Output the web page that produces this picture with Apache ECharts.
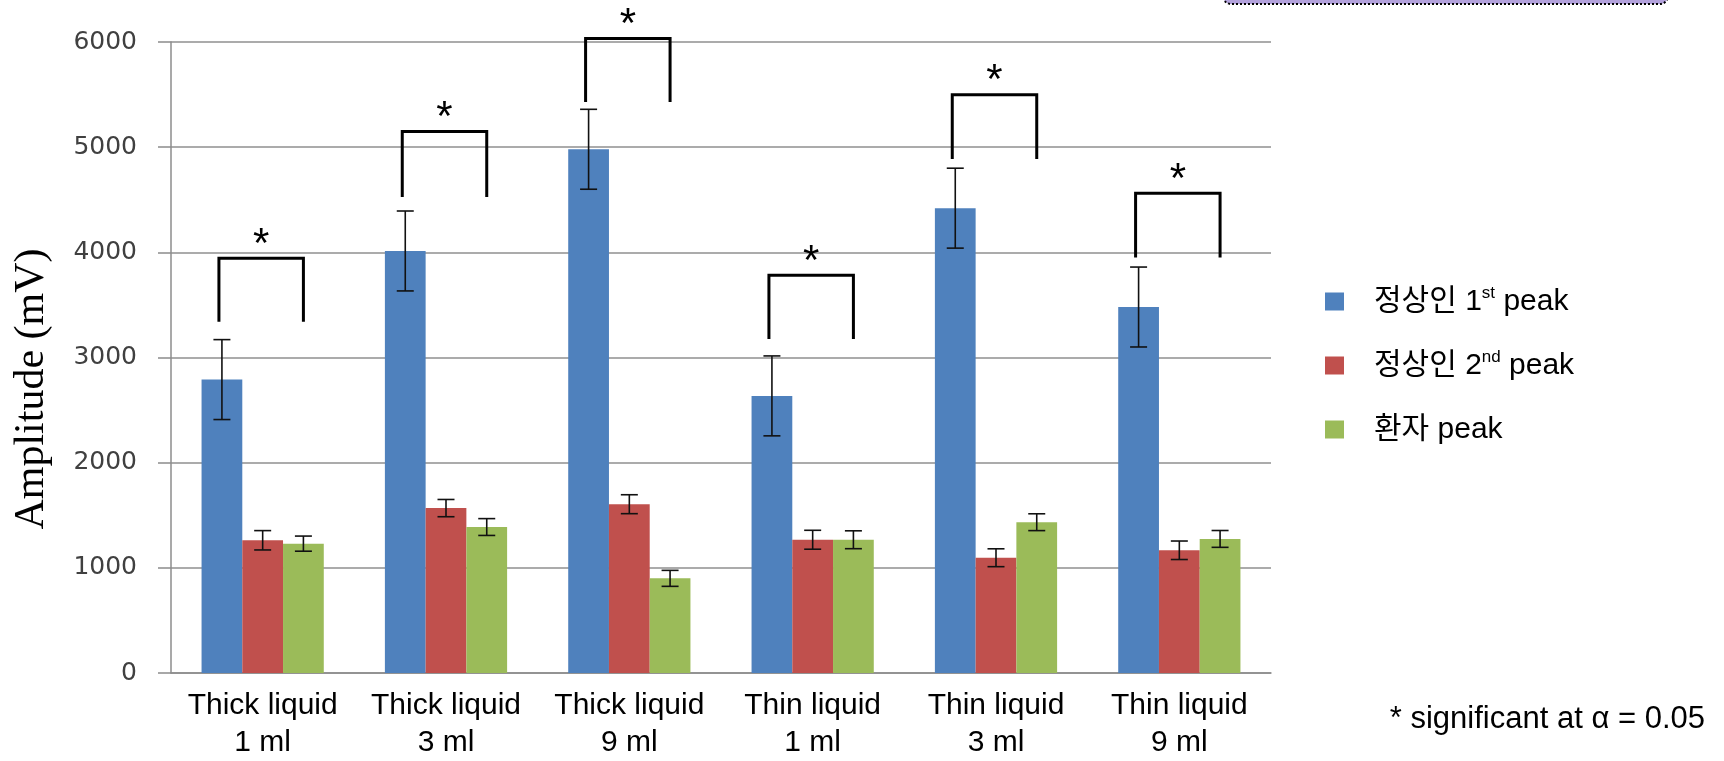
<!DOCTYPE html>
<html>
<head>
<meta charset="utf-8">
<script src="https://cdn.jsdelivr.net/npm/echarts@6/dist/echarts.min.js"></script>
<style>
  html, body { margin: 0; padding: 0; background: #fff; }
  #chart { width: 1724px; height: 761px; }
</style>
</head>
<body>
<div id="chart"></div>
<script>
// Swallowing amplitude by bolus type
const categories = ['Thick liquid\n1 ml', 'Thick liquid\n3 ml', 'Thick liquid\n9 ml',
                    'Thin liquid\n1 ml', 'Thin liquid\n3 ml', 'Thin liquid\n9 ml'];
const seriesNames = ['정상인 1st peak', '정상인 2nd peak', '환자 peak'];
const seriesColors = ['#4f81bd', '#c0504d', '#9bbb59'];

const normal1st    = [2790, 4013, 4980, 2635, 4420, 3480];
const normal1stErr = [380, 380, 380, 380, 380, 380];
const normal2nd    = [1262, 1568, 1605, 1267, 1096, 1167];
const normal2ndErr = [92, 82, 90, 90, 85, 88];
const patient      = [1230, 1388, 900, 1267, 1434, 1275];
const patientErr   = [72, 80, 76, 85, 80, 80];

// significance brackets (1st peak vs patient peak)
const bracketTop = [3943, 5150, 6033, 3781, 5498, 4562];
const bracketLeg = [3340, 4525, 5429, 3177, 4888, 3952];

const yMin = 0, yMax = 6000, yStep = 1000;
const noteText = '* significant at α = 0.05';

const means = [normal1st, normal2nd, patient];
const errs = [normal1stErr, normal2ndErr, patientErr];

const chart = echarts.init(document.getElementById('chart'));

function barWidthOf(api) {
  const band = api.size([1, 0])[0];
  return band * (2 / 3) / 3;
}

const barSeries = seriesNames.map((name, i) => ({
  type: 'bar',
  name: name,
  data: means[i],
  barGap: '0%',
  barCategoryGap: '33.333%',
  itemStyle: { color: seriesColors[i] },
  z: 2
}));

const errorSeries = seriesNames.map((name, i) => ({
  type: 'custom',
  name: name + ' err',
  data: means[i].map((m, k) => [k, m, errs[i][k]]),
  encode: { x: 0, y: 1 },
  clip: false,
  z: 5,
  renderItem: function (params, api) {
    const bw = barWidthOf(api);
    const k = api.value(0), m = api.value(1), e = api.value(2);
    const cx = api.coord([k, m])[0] + (i - 1) * bw;
    const yHi = api.coord([k, m + e])[1];
    const yLo = api.coord([k, m - e])[1];
    const cap = 8.5;
    const st = { stroke: '#111', lineWidth: 1.6 };
    return {
      type: 'group',
      children: [
        { type: 'line', shape: { x1: cx, y1: yHi, x2: cx, y2: yLo }, style: st },
        { type: 'line', shape: { x1: cx - cap, y1: yHi, x2: cx + cap, y2: yHi }, style: st },
        { type: 'line', shape: { x1: cx - cap, y1: yLo, x2: cx + cap, y2: yLo }, style: st }
      ]
    };
  }
}));

const bracketSeries = {
  type: 'custom',
  name: 'significance',
  data: bracketTop.map((t, k) => [k, t, bracketLeg[k]]),
  encode: { x: 0, y: 1 },
  clip: false,
  z: 6,
  renderItem: function (params, api) {
    const bw = barWidthOf(api);
    const k = api.value(0);
    const c = api.coord([k, api.value(1)]);
    const yLeg = api.coord([k, api.value(2)])[1];
    const xl = c[0] - bw - 3, xr = c[0] + bw;
    return {
      type: 'group',
      children: [
        {
          type: 'polyline',
          shape: { points: [[xl, yLeg], [xl, c[1]], [xr, c[1]], [xr, yLeg]] },
          style: { stroke: '#000', lineWidth: 3, fill: null, lineJoin: 'miter' }
        },
        {
          type: 'text',
          x: (xl + xr) / 2,
          y: c[1] - 13,
          style: {
            text: '*', fill: '#000', align: 'center', verticalAlign: 'middle',
            font: '42px "Liberation Sans", Arial, sans-serif'
          }
        }
      ]
    };
  }
};

chart.setOption({
  animation: false,
  grid: { left: 171, right: 453, top: 42, bottom: 85, containLabel: false },
  legend: {
    data: seriesNames,
    orient: 'vertical',
    left: 1320,
    top: 280,
    itemWidth: 19,
    itemHeight: 18,
    itemGap: 31,
    icon: 'rect',
    selectedMode: false,
    formatter: name => name.replace(/(\d)(st|nd|rd|th)\b/, '$1{sup|$2}'),
    textStyle: {
      fontFamily: '"Liberation Sans", Arial, "Noto Sans CJK KR", sans-serif',
      fontSize: 30,
      color: '#000',
      lineHeight: 33,
      padding: [0, 0, 0, 25],
      rich: {
        sup: {
          fontFamily: '"Liberation Sans", Arial, sans-serif',
          fontSize: 17,
          color: '#000',
          lineHeight: 18,
          verticalAlign: 'top'
        }
      }
    }
  },
  xAxis: {
    type: 'category',
    data: categories,
    axisLine: { show: true, lineStyle: { color: '#8c8c8c', width: 1.5 } },
    axisTick: { show: false },
    axisLabel: {
      margin: 14,
      fontFamily: '"Liberation Sans", Arial, sans-serif',
      fontSize: 30,
      lineHeight: 37,
      color: '#000',
      interval: 0
    }
  },
  yAxis: {
    type: 'value',
    min: yMin,
    max: yMax,
    interval: yStep,
    axisLine: { show: true, lineStyle: { color: '#8c8c8c', width: 1.5 } },
    axisTick: { show: true, length: 13, lineStyle: { color: '#8c8c8c', width: 1.5 } },
    splitLine: { show: true, lineStyle: { color: '#ababab', width: 2 } },
    axisLabel: {
      margin: 34,
      formatter: v => String(v),
      fontFamily: '"DejaVu Sans", Verdana, sans-serif',
      fontSize: 25,
      color: '#404040'
    }
  },
  graphic: [
    {
      type: 'text',
      x: 32,
      y: 389,
      rotation: Math.PI / 2,
      style: {
        text: 'Amplitude (mV)',
        fill: '#000',
        align: 'center',
        verticalAlign: 'middle',
        font: '42px "Liberation Serif", "Times New Roman", serif'
      }
    },
    {
      type: 'text',
      x: 1705,
      y: 719,
      style: {
        text: noteText,
        fill: '#000',
        align: 'right',
        verticalAlign: 'middle',
        font: '31px "Liberation Sans", Arial, sans-serif'
      }
    },
    {
      type: 'rect',
      shape: { x: 1223, y: -40, width: 445, height: 44, r: 8 },
      style: { fill: '#b3a2dc', stroke: '#000', lineWidth: 2, lineDash: [2, 2] }
    }
  ],
  series: barSeries.concat(errorSeries, [bracketSeries])
});
</script>
</body>
</html>
